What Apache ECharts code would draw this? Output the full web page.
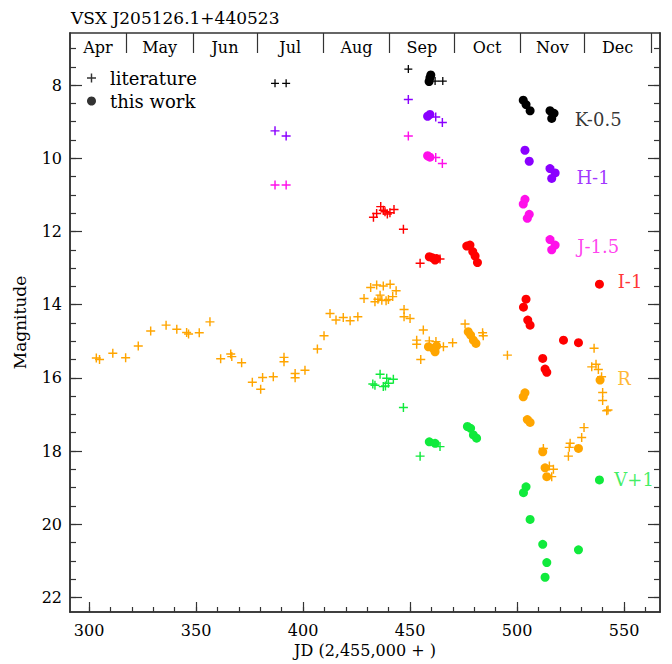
<!DOCTYPE html>
<html>
<head>
<meta charset="utf-8">
<script src="https://cdn.jsdelivr.net/npm/echarts@6/dist/echarts.min.js"></script>
<style>html,body{margin:0;padding:0;background:#fff}#c{width:672px;height:664px}</style>
</head>
<body>
<div id="c"></div>
<script>
// ---------- data ----------
var titleText = 'VSX J205126.1+440523';
var xTickLabels = [300, 350, 400, 450, 500, 550];
var xMinorTicks = [300,310,320,330,340,350,360,370,380,390,400,410,420,430,440,450,460,470,480,490,500,510,520,530,540,550,560];
var yTickLabels = [8, 10, 12, 14, 16, 18, 20, 22];
var yMinorTicks = [7,7.5,8,8.5,9,9.5,10,10.5,11,11.5,12,12.5,13,13.5,14,14.5,15,15.5,16,16.5,17,17.5,18,18.5,19,19.5,20,20.5,21,21.5,22];
var monthNames = ['Apr','May','Jun','Jul','Aug','Sep','Oct','Nov','Dec'];
var monthCenters = [304.2, 333, 363.5, 394, 425, 455.5, 486, 516.5, 547];
var monthBounds = [317.5, 348.5, 378.5, 409.5, 440.5, 470.5, 501.5, 531.5, 562.5];

var K_lit = [[386.9,7.95],[392.1,7.95],[449.2,7.56],[461.7,7.89],[465.3,7.89]];
var K_own = [[459.7,7.72],[459.3,7.8],[458.9,7.9],[502.9,8.41],[504.2,8.53],[506.1,8.70],[515.4,8.70],[517.3,8.77],[516.2,8.91]];
var H_lit = [[386.9,9.25],[392.1,9.39],[449.2,8.39],[462,8.87],[465.1,9.02]];
var H_own = [[458.2,8.85],[459.3,8.8],[503.7,9.78],[505.7,10.08],[515.4,10.28],[517.8,10.4],[516.2,10.55]];
var J_lit = [[386.9,10.73],[392.1,10.73],[449.2,9.39],[462,9.98],[465.1,10.14]];
var J_own = [[458.2,9.93],[459.3,9.97],[502.9,11.25],[503.7,11.12],[504.8,11.64],[505.7,11.53],[515.4,12.22],[517.8,12.37],[516.2,12.5]];
var I_lit = [[432.9,11.61],[434.4,11.51],[436.3,11.32],[437.5,11.42],[438.3,11.46],[439.4,11.52],[440.6,11.49],[442.5,11.4],[446.9,11.94],[454.7,12.87],[464,12.75]];
var I_own = [[459,12.69],[460.5,12.72],[461.7,12.78],[462.4,12.74],[476.5,12.4],[478,12.37],[479.3,12.55],[480.4,12.67],[481.5,12.85],[503,14.07],[504.2,13.85],[505,14.42],[506.1,14.56],[512,15.47],[513.1,15.76],[513.9,15.85],[521.7,14.97],[528.7,15.04],[538.5,13.44]];
var R_lit = [[303.4,15.46],[304.9,15.5],[311.1,15.33],[317.1,15.45],[323,15.13],[328.8,14.72],[336,14.56],[341,14.67],[345.6,14.76],[346.5,14.8],[351.5,14.77],[356.5,14.47],[361.5,15.48],[366.7,15.42],[366.2,15.35],[371.3,15.59],[376.3,16.12],[380.2,16.31],[381.1,15.99],[386.1,15.97],[391.1,15.44],[391.1,15.56],[396.3,15.88],[396.3,16.0],[400.9,15.79],[406.7,15.21],[409.8,14.85],[412.6,14.24],[415.4,14.42],[418.8,14.35],[422,14.44],[425.6,14.33],
  [428.5,13.83],[431.6,13.53],[433.6,13.92],[434.4,13.46],[435,13.85],[436,13.74],[436.8,13.88],[437.5,13.49],[438.8,13.89],[439.9,13.86],[440.7,13.44],[441.9,13.78],[443.5,13.62],
  [447.2,14.13],[447.2,14.33],[450,14.38],[453.1,14.97],[453.1,15.08],[455,15.5],[456.2,14.69],[459,14.99],[462.1,15.01],[465.6,15.15],[469.9,15.04],[475.7,14.53],[483.9,14.77],[484.2,14.85],[495.5,15.38],
  [512.3,17.93],[515.1,18.41],[517,18.5],[516.2,18.7],[524,18.14],[524.4,17.9],[524.8,17.79],[530.2,17.63],[531.3,17.36],[536,15.19],[534.9,15.7],[536.9,15.63],[538,15.77],[539.5,15.97],[540,16.4],[540,16.62],[541.9,16.9],[542.5,16.88]];
var R_own = [[458.6,15.15],[460.9,15.2],[462.4,15.13],[461.7,15.29],[477.2,14.74],[478.3,14.83],[479.6,14.97],[480.8,15.06],[502.9,16.52],[503.7,16.41],[504.8,17.14],[506.1,17.22],[512,18.02],[513.1,18.46],[513.9,18.7],[528.7,17.93],[538.8,16.06]];
var V_lit = [[432.6,16.17],[433.6,16.2],[436,15.9],[437.5,16.24],[438.5,16.22],[439.1,16.01],[439.9,16.15],[442.2,16.04],[446.9,16.81],[454.7,18.14],[464,17.88]];
var V_own = [[459,17.75],[461.7,17.79],[476.8,17.33],[478.3,17.38],[479.6,17.56],[481.1,17.65],[503,19.14],[504.2,18.98],[506.1,19.87],[512,20.55],[513.9,21.05],[513.1,21.45],[528.7,20.7],[538.5,18.79]];

var bandNames = ['K-0.5', 'H-1', 'J-1.5', 'I-1', 'R', 'V+1'];
var bandLabelPos = [[537.9,8.93],[535.5,10.52],[537.9,12.41],[552.8,13.37],[550,16.03],[554.7,18.77]];
var bandColors = ['#000000', '#8a00ff', '#ff10ea', '#ff0000', '#ffa500', '#10ea3c'];
var bandLit = [K_lit, H_lit, J_lit, I_lit, R_lit, V_lit];
var bandOwn = [K_own, H_own, J_own, I_own, R_own, V_own];

// ---------- chart ----------
var FONT = 'DejaVu Serif';
var AX = '#333333';
var crossPath = 'path://M0.42,0H0.58V0.42H1V0.58H0.58V1H0.42V0.58H0V0.42H0.42Z';
var chart = echarts.init(document.getElementById('c'), null, {renderer: 'svg'});
var XMIN = 291.1, XMAX = 566.8, YMIN = 6.575, YMAX = 22.4;

function xAx(pos, ticks, len, labels, extra) {
  var a = {
    type: 'value', position: pos, min: XMIN, max: XMAX, gridIndex: 0,
    axisLine: {show: true, onZero: false, lineStyle: {color: AX, width: 1.5}},
    axisTick: {show: true, inside: true, length: len, customValues: ticks, lineStyle: {color: AX, width: 1.2}},
    axisLabel: labels ? labels : {show: false},
    splitLine: {show: false}
  };
  return Object.assign(a, extra || {});
}
function yAx(pos, ticks, len, labels) {
  return {
    type: 'value', position: pos, min: YMIN, max: YMAX, inverse: true, gridIndex: 0,
    axisLine: {show: true, onZero: false, lineStyle: {color: AX, width: 1.5}},
    axisTick: {show: true, inside: true, length: len, customValues: ticks, lineStyle: {color: AX, width: 1.2}},
    axisLabel: labels ? labels : {show: false},
    splitLine: {show: false}
  };
}

var series = [];
for (var b = 0; b < bandNames.length; b++) {
  series.push({
    type: 'scatter', name: bandNames[b] + ' lit', xAxisIndex: 0, yAxisIndex: 0,
    data: bandLit[b], symbol: crossPath, symbolSize: b === 0 ? 8 : 9,
    itemStyle: {color: bandColors[b], opacity: 1}, z: 3, silent: true
  });
  series.push({
    type: 'scatter', name: bandNames[b] + ' own', xAxisIndex: 0, yAxisIndex: 0,
    data: bandOwn[b], symbol: 'circle', symbolSize: 9,
    itemStyle: {color: bandColors[b], opacity: 1}, z: 4, silent: true
  });
  series.push({
    type: 'scatter', name: bandNames[b] + ' label', xAxisIndex: 0, yAxisIndex: 0,
    data: [bandLabelPos[b]], symbolSize: 0, silent: true,
    label: {show: true, position: 'inside', formatter: bandNames[b], color: bandColors[b], fontFamily: FONT, fontSize: 18}
  });
}
series.push({type: 'scatter', name: 'literature', data: [], symbol: crossPath, itemStyle: {color: '#000'}});
series.push({type: 'scatter', name: 'this work', data: [], symbol: 'circle', itemStyle: {color: '#000'}});

chart.setOption({
  animation: false,
  backgroundColor: '#ffffff',
  title: {text: titleText, left: 66, top: 4, textStyle: {fontFamily: FONT, fontWeight: 'normal', fontSize: 17, color: '#000'}},
  legend: {
    data: [{name: 'literature', icon: crossPath}, {name: 'this work', icon: 'circle'}],
    orient: 'vertical', left: 82, top: 64, itemWidth: 9, itemHeight: 9, itemGap: 5,
    textStyle: {fontFamily: FONT, fontSize: 18, color: '#000', padding: [0, 0, 0, 9]}, selectedMode: false
  },
  grid: {left: 70, right: 12, top: 33, bottom: 52, containLabel: false, outerBoundsMode: 'none'},
  xAxis: [
    xAx('bottom', xTickLabels, 10, {show: true, customValues: xTickLabels, margin: 10, fontFamily: FONT, fontSize: 16, color: '#000'},
      {name: 'JD (2,455,000 + )', nameLocation: 'middle', nameGap: 30, nameTextStyle: {fontFamily: FONT, fontSize: 16, color: '#000'}}),
    xAx('bottom', xMinorTicks, 5, null),
    xAx('top', monthBounds, 20, {show: true, inside: true, customValues: monthCenters, margin: 6, verticalAlign: 'top',
      fontFamily: FONT, fontSize: 16, color: '#000',
      formatter: function (v) { var i = monthCenters.indexOf(v); return i >= 0 ? monthNames[i] : ''; }})
  ],
  yAxis: [
    Object.assign(yAx('left', yTickLabels, 12, {show: true, customValues: yTickLabels, margin: 8, fontFamily: FONT, fontSize: 16, color: '#000'}),
      {name: 'Magnitude', nameLocation: 'middle', nameGap: 42, nameRotate: 90, nameTextStyle: {fontFamily: FONT, fontSize: 17, color: '#000'}}),
    yAx('left', yMinorTicks, 6, null),
    yAx('right', yTickLabels, 12, null),
    yAx('right', yMinorTicks, 6, null)
  ],
  series: series
});
</script>
</body>
</html>
